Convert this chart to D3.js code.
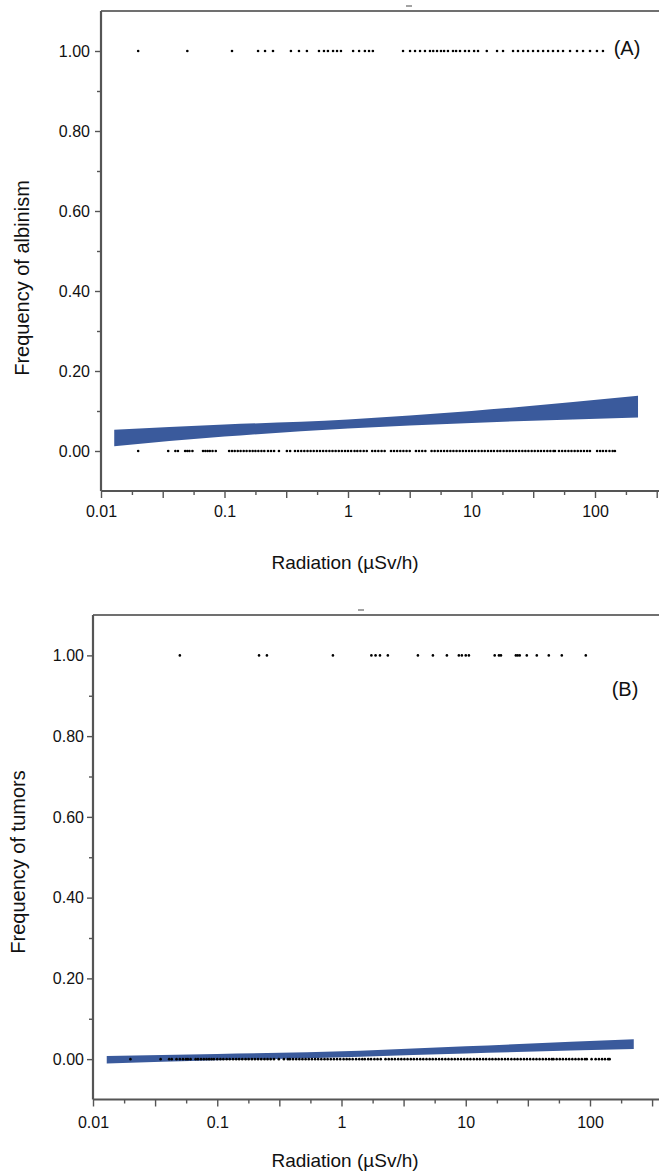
<!DOCTYPE html>
<html><head><meta charset="utf-8">
<script src="https://cdn.jsdelivr.net/npm/d3@7"></script>
<style>
html,body{margin:0;padding:0;background:#fff;}
svg text{font-family:"Liberation Sans",Arial,Helvetica,sans-serif;fill:#111;}
</style></head>
<body><svg id="c" width="659" height="1171"></svg>
<script>
// ---------- data ----------
const xTickLabels = [0.01, 0.1, 1, 10, 100];
const xTicksLong = [0.01, 0.0316, 0.1, 0.316, 1, 3.16, 10, 31.6, 100, 316];
const xTicksShort = [0.0178, 0.0562, 0.178, 0.562, 1.78, 5.62, 17.8, 56.2, 178];
const yTickValues = [0, 0.2, 0.4, 0.6, 0.8, 1.0];
const yMinorTicks = [0.1, 0.3, 0.5, 0.7, 0.9];

// (A) albinism: radiation of individuals with (1) / without (0) albinism
const albinismPresent = [0.020, 0.050, 0.115, 0.187, 0.213, 0.247, 0.345, 0.401, 0.465, 0.582, 0.639, 0.688, 0.757, 0.815, 0.877, 1.10, 1.23, 1.37, 1.48, 1.59, 2.79, 3.18, 3.49, 3.83, 4.20, 4.61, 4.90, 5.26, 5.66, 6.00, 6.45, 7.08, 7.50, 8.07, 8.86, 9.54, 10.5, 11.3, 13.3, 16.1, 18.0, 21.7, 23.8, 26.2, 28.7, 31.5, 34.6, 38.0, 41.7, 45.7, 50.2, 55.1, 62.8, 71.5, 80.0, 91.1, 103.7, 116];
const albinismAbsent = [0.020, 0.035, 0.040, 0.042,
  0.048, 0.050, 0.052, 0.055,
  0.067, 0.070, 0.073, 0.076, 0.080, 0.085,
  0.109, 0.115, 0.121, 0.128, 0.135, 0.143, 0.151, 0.160, 0.169, 0.178, 0.188, 0.199, 0.210, 0.225, 0.238, 0.252,
  0.276, 0.320, 0.340,
  0.372, 0.394, 0.418, 0.443, 0.470, 0.498, 0.528, 0.560, 0.593, 0.629, 0.667, 0.707, 0.749, 0.794, 0.842, 0.892, 0.946, 1.00, 1.06, 1.13, 1.19, 1.26, 1.34, 1.42,
  1.57, 1.66, 1.76, 1.87, 1.98, 2.23, 2.36, 2.50, 2.65, 2.81, 2.98, 3.16, 3.55, 3.76, 3.99, 4.23, 4.75, 5.03, 5.34, 5.66, 6.00, 6.36, 6.74, 7.14, 7.57, 8.03, 8.51, 9.02, 9.56, 10.1, 10.7, 11.4, 12.1, 12.8, 13.6, 14.4, 15.2, 16.2, 17.1, 18.2, 19.3, 20.4, 21.6, 22.9, 24.3, 25.8, 27.3, 28.9, 30.7, 32.5, 34.5, 36.5, 38.7, 41.1, 43.5, 46.1, 47.4,
  51.1, 54.2, 57.4, 60.9, 64.5, 68.4, 72.5, 76.8, 81.4, 86.3, 91.0,
  104,
  110, 116, 123, 131, 139, 145];
const albinismBandX = [0.0128, 0.1, 1, 10, 223];
const albinismBandLo = [0.012, 0.036, 0.056, 0.070, 0.084];
const albinismBandHi = [0.053, 0.066, 0.079, 0.100, 0.138];

// (B) tumors
const tumorPresent = [0.050, 0.217, 0.251, 0.853, 1.74, 1.88, 2.04, 2.36, 4.12, 5.44, 7.05, 8.80, 9.30, 10.0, 10.6, 17.1, 18.5, 19.2, 25.3, 26.2, 27.2, 31.0, 37.3, 46.6, 59.3, 92.5];
const tumorAbsent = [0.020, 0.035, 0.041, 0.043,
  0.047, 0.050, 0.053, 0.056, 0.058, 0.061,
  0.067, 0.070, 0.074, 0.078, 0.082, 0.086, 0.090,
  0.094, 0.100, 0.106, 0.112, 0.119, 0.126, 0.134, 0.142, 0.150, 0.159, 0.169, 0.179, 0.190, 0.201, 0.213, 0.226, 0.240, 0.254, 0.269, 0.286,
  0.313, 0.344, 0.370,
  0.384, 0.407, 0.432, 0.458, 0.485, 0.514, 0.545, 0.578, 0.613, 0.649, 0.688, 0.730, 0.773, 0.820, 0.869, 0.921, 0.977, 1.04, 1.10, 1.16, 1.23, 1.31, 1.39, 1.47,
  1.54, 1.64, 1.73, 1.84, 1.95, 2.07,
  2.26, 2.40, 2.54, 2.69, 2.86, 3.03, 3.21, 3.40, 3.61, 3.82, 4.05, 4.30, 4.55, 4.83, 5.12, 5.42, 5.75, 6.10, 6.46, 6.85, 7.26, 7.70, 8.16, 8.65, 9.17, 9.72, 10.3, 10.9, 11.6, 12.3, 13.0, 13.8, 14.6, 15.5, 16.4, 17.4, 18.4, 19.5, 20.7, 21.9, 23.3, 24.7, 26.1, 27.7, 29.4, 31.1, 33.0, 35.0, 37.1, 39.3, 41.7, 44.2, 46.8, 49.3,
  50.8, 53.9, 57.1, 60.5, 64.2, 68.0, 72.1, 76.4, 81.0, 85.9, 91.0, 94.2,
  103,
  111, 118, 125, 132, 140, 144];
const tumorBandX = [0.0129, 0.1, 1.41, 10, 225];
const tumorBandLo = [-0.011, -0.003, 0.006, 0.014, 0.025];
const tumorBandHi = [0.008, 0.013, 0.021, 0.032, 0.049];

// ---------- drawing ----------
const svg = d3.select("#c");
svg.append("rect").attr("width",659).attr("height",1171).attr("fill","#fff");
const FONT = "Liberation Sans, Arial, sans-serif";

function panel(o){
  const g = svg.append("g");
  const x = d3.scaleLog().domain([0.01,100]).range([o.x0, o.x100]);
  const y = d3.scaleLinear().domain([-0.1,1.1]).range([o.yBot, o.yTop]);
  const axisColor = "#555";

  // band
  const bandData = o.bandX.map((v,i)=>({x:v, lo:o.bandLo[i], hi:o.bandHi[i]}));
  g.append("path").datum(bandData)
    .attr("d", d3.area().x(d=>x(d.x)).y0(d=>y(d.lo)).y1(d=>y(d.hi)).curve(d3.curveMonotoneX))
    .attr("fill","#3a5a9c");

  // points
  const pts = o.present.map(v=>({x:v,y:1})).concat(o.absent.map(v=>({x:v,y:0})));
  g.selectAll("circle.p").data(pts).enter().append("circle")
    .attr("cx",d=>x(d.x)).attr("cy",d=>y(d.y)).attr("r",1.3).attr("fill","#000");

  // frame top
  g.append("line").attr("x1",o.x0).attr("x2",659).attr("y1",o.yTop).attr("y2",o.yTop)
    .attr("stroke","#707070").attr("stroke-width",1.8);

  // y axis
  const ya = g.append("g").attr("transform",`translate(${o.x0},0)`)
    .call(d3.axisLeft(y).tickValues(yTickValues).tickFormat(d3.format(".2f")).tickSize(6).tickPadding(o.yPad));
  ya.select(".domain").attr("stroke",axisColor).attr("stroke-width",2.2).attr("d",`M0,${o.yTop}V${o.yBot}`);
  ya.selectAll(".tick line").attr("stroke",axisColor).attr("stroke-width",1.4);
  ya.selectAll(".tick text").attr("font-size",16).style("font-family",FONT).attr("fill","#111");
  const ym = g.append("g").attr("transform",`translate(${o.x0},0)`)
    .call(d3.axisLeft(y).tickValues(yMinorTicks).tickFormat("").tickSize(4));
  ym.select(".domain").remove();
  ym.selectAll(".tick line").attr("stroke",axisColor).attr("stroke-width",1.4);

  // x axis
  const xa = g.append("g").attr("transform",`translate(0,${o.yBot})`)
    .call(d3.axisBottom(x).tickValues(xTicksLong).tickFormat(d=>xTickLabels.includes(d)?String(d):"").tickSize(7).tickPadding(o.xPad));
  xa.select(".domain").attr("stroke",axisColor).attr("stroke-width",2.2).attr("d",`M${o.x0},0H659`);
  xa.selectAll(".tick line").attr("stroke",axisColor).attr("stroke-width",1.4);
  xa.selectAll(".tick text").attr("font-size",16).style("font-family",FONT).attr("fill","#111");
  const xs = g.append("g").attr("transform",`translate(0,${o.yBot})`)
    .call(d3.axisBottom(x).tickValues(xTicksShort).tickFormat("").tickSize(4));
  xs.select(".domain").remove();
  xs.selectAll(".tick line").attr("stroke",axisColor).attr("stroke-width",1.4);

  // titles
  g.append("text").attr("x",345).attr("y",o.xTitleY).attr("text-anchor","middle")
    .attr("font-size",19).text("Radiation (\u00B5Sv/h)");
  g.append("text").attr("transform",`translate(${o.yTitleX},${o.yTitleY}) rotate(-90)`)
    .attr("text-anchor","middle").attr("dominant-baseline","central")
    .attr("font-size",20).text(o.yTitle);
  g.append("text").attr("x",o.labX).attr("y",o.labY).attr("text-anchor","middle")
    .attr("font-size",20).text(o.label);
  // small stray mark above frame
  g.append("line").attr("x1",o.markX).attr("x2",o.markX+6).attr("y1",o.yTop-5).attr("y2",o.yTop-5)
    .attr("stroke","#666").attr("stroke-width",1.2);
}

panel({x0:101, x100:595, yTop:11, yBot:491, yPad:5, xPad:8,
  bandX:albinismBandX, bandLo:albinismBandLo, bandHi:albinismBandHi,
  present:albinismPresent, absent:albinismAbsent,
  xTitleY:569, yTitleX:22, yTitleY:278, yTitle:"Frequency of albinism",
  label:"(A)", labX:627, labY:55, markX:406});

panel({x0:93, x100:590, yTop:615, yBot:1099.5, yPad:3, xPad:10,
  bandX:tumorBandX, bandLo:tumorBandLo, bandHi:tumorBandHi,
  present:tumorPresent, absent:tumorAbsent,
  xTitleY:1167, yTitleX:18, yTitleY:862, yTitle:"Frequency of tumors",
  label:"(B)", labX:625, labY:696, markX:358});
</script></body></html>
